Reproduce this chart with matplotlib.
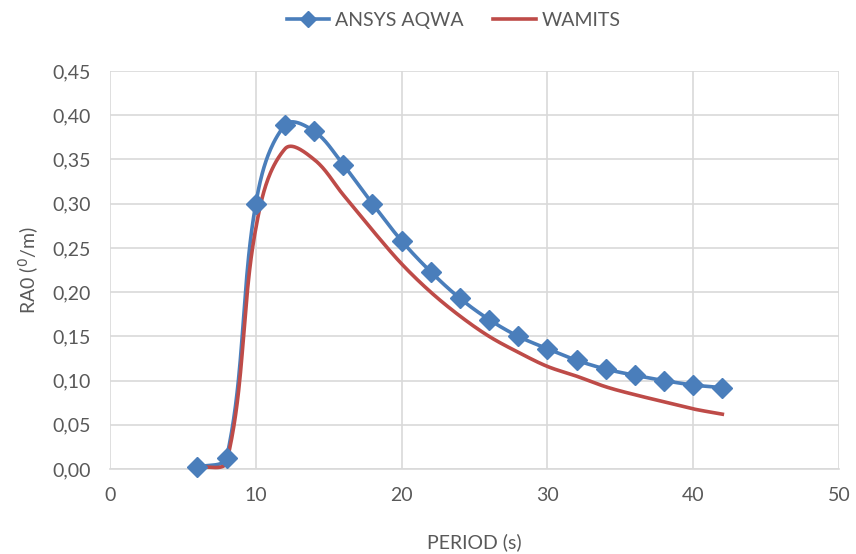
import numpy as np
import matplotlib.pyplot as plt

period = [6, 8, 10, 12, 14, 16, 18, 20, 22, 24, 26, 28, 30, 32, 34, 36, 38, 40, 42]
aqwa = [0.002, 0.013, 0.300, 0.389, 0.382, 0.344, 0.300, 0.258, 0.223, 0.193,
        0.169, 0.150, 0.136, 0.123, 0.113, 0.106, 0.100, 0.095, 0.092]
wamit = [0.002, 0.008, 0.272, 0.362, 0.350, 0.310, 0.270, 0.232, 0.200, 0.173,
         0.150, 0.132, 0.116, 0.105, 0.093, 0.084, 0.076, 0.068, 0.062]

# pixel scale of the axes, used so the smoothing behaves like excel (screen space)
SX, SY = 14.58, 884.0


def smooth(x, y, n=40):
    # smoothed line: bezier segments, tangent from neighbours, handle = third of segment
    p = np.column_stack([np.array(x) * SX, np.array(y) * SY]).astype(float)
    p = np.vstack([p[0], p, p[-1]])
    out = []
    t = np.linspace(0, 1, n)[:, None]
    for i in range(1, len(p) - 2):
        p0, p1 = p[i], p[i + 1]
        L = np.hypot(*(p1 - p0))
        d0 = p[i + 1] - p[i - 1]
        d1 = p[i + 2] - p[i]
        c1 = p0 + d0 / np.hypot(*d0) * L / 3
        c2 = p1 - d1 / np.hypot(*d1) * L / 3
        seg = (1 - t) ** 3 * p0 + 3 * (1 - t) ** 2 * t * c1 + 3 * (1 - t) * t ** 2 * c2 + t ** 3 * p1
        out.append(seg)
    out = np.vstack(out)
    return out[:, 0] / SX, out[:, 1] / SY


plt.rcParams['font.family'] = ['Lato', 'DejaVu Sans']
grey = '#595959'

fig = plt.figure(figsize=(8.56, 5.54), dpi=100)
ax = fig.add_axes([0.1285, 0.1534, 0.8516, 0.7184])

blue = '#4A7EBB'
red = '#BE4B48'

sx, sy = smooth(period, aqwa)
ax.plot(sx, sy, color=blue, lw=2.6, zorder=3, clip_on=False)
ax.plot(period, aqwa, ls='none', marker='D', ms=10, color=blue, zorder=4, clip_on=False)
ax.plot([], [], color=blue, lw=2.6, marker='D', ms=8, label='ANSYS AQWA')

sx, sy = smooth(period, wamit)
ax.plot(sx, sy, color=red, lw=2.6, zorder=3, clip_on=False, label='WAMITS')

ax.set_xlim(0, 50)
ax.set_ylim(0, 0.45)
ax.set_xticks(range(0, 51, 10))
yt = np.arange(0, 0.451, 0.05)
ax.set_yticks(yt)
ax.set_yticklabels([('%.2f' % v).replace('.', ',') for v in yt])
ax.grid(True, color='#D9D9D9', lw=1.2)
ax.set_axisbelow(True)
for s in ['top', 'right', 'left']:
    ax.spines[s].set_visible(False)
ax.spines['bottom'].set_color('#D9D9D9')
ax.spines['bottom'].set_linewidth(1.2)
ax.tick_params(length=0, labelsize=14, colors=grey)
ax.tick_params(axis='x', pad=13)
ax.tick_params(axis='y', pad=14)

ax.set_xlabel('PERIOD (s)', fontsize=14, color=grey, labelpad=21)
ax.set_ylabel('RA0 ($^{0}$/m)', fontsize=14, color=grey, labelpad=8)

fig.legend(loc='upper center', bbox_to_anchor=(0.53, 1.01), ncol=2, frameon=False,
           fontsize=14, labelcolor=grey, handlelength=2.2, handletextpad=0.3,
           columnspacing=1.5)

fig.savefig('out.png', dpi=100)
